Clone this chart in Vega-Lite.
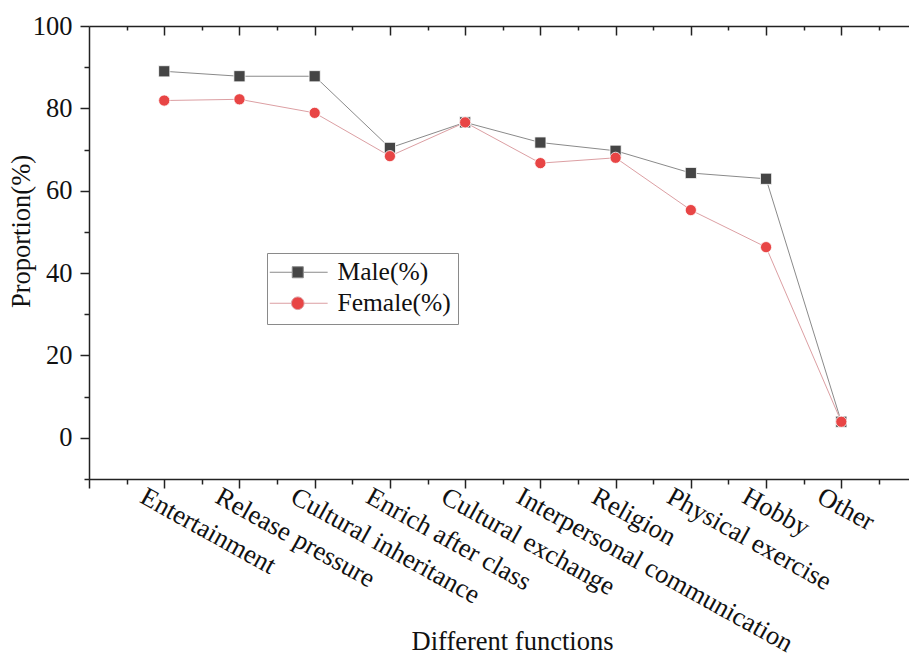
{
  "$schema": "https://vega.github.io/schema/vega-lite/v6.json",
  "width": 820,
  "height": 453,
  "autosize": {"type": "none"},
  "padding": {"left": 89, "top": 26, "right": 0, "bottom": 176},
  "background": "white",
  "config": {"view": {"stroke": null}, "font": "Liberation Serif"},
  "data": {
    "values": [
      {"function": "Entertainment", "idx": 1, "gender": "Male(%)", "value": 89.0},
      {"function": "Release pressure", "idx": 2, "gender": "Male(%)", "value": 87.8},
      {"function": "Cultural inheritance", "idx": 3, "gender": "Male(%)", "value": 87.8},
      {"function": "Enrich after class", "idx": 4, "gender": "Male(%)", "value": 70.4},
      {"function": "Cultural exchange", "idx": 5, "gender": "Male(%)", "value": 76.6},
      {"function": "Interpersonal communication", "idx": 6, "gender": "Male(%)", "value": 71.7},
      {"function": "Religion", "idx": 7, "gender": "Male(%)", "value": 69.7},
      {"function": "Physical exercise", "idx": 8, "gender": "Male(%)", "value": 64.3},
      {"function": "Hobby", "idx": 9, "gender": "Male(%)", "value": 62.9},
      {"function": "Other", "idx": 10, "gender": "Male(%)", "value": 3.9},
      {"function": "Entertainment", "idx": 1, "gender": "Female(%)", "value": 81.9},
      {"function": "Release pressure", "idx": 2, "gender": "Female(%)", "value": 82.2},
      {"function": "Cultural inheritance", "idx": 3, "gender": "Female(%)", "value": 78.9},
      {"function": "Enrich after class", "idx": 4, "gender": "Female(%)", "value": 68.4},
      {"function": "Cultural exchange", "idx": 5, "gender": "Female(%)", "value": 76.6},
      {"function": "Interpersonal communication", "idx": 6, "gender": "Female(%)", "value": 66.7},
      {"function": "Religion", "idx": 7, "gender": "Female(%)", "value": 68.0},
      {"function": "Physical exercise", "idx": 8, "gender": "Female(%)", "value": 55.3},
      {"function": "Hobby", "idx": 9, "gender": "Female(%)", "value": 46.3},
      {"function": "Other", "idx": 10, "gender": "Female(%)", "value": 3.9}
    ]
  },
  "layer": [
    {
      "mark": {"type": "line", "strokeWidth": 1},
      "encoding": {
        "x": {
          "field": "idx", "type": "quantitative",
          "scale": {"domain": [0, 10.9], "nice": false, "zero": false},
          "axis": {
            "orient": "bottom",
            "values": [0, 0.5, 1, 1.5, 2, 2.5, 3, 3.5, 4, 4.5, 5, 5.5, 6, 6.5, 7, 7.5, 8, 8.5, 9, 9.5, 10, 10.5],
            "labelExpr": "datum.value % 1 === 0 && datum.value >= 1 ? ['', 'Entertainment', 'Release pressure', 'Cultural inheritance', 'Enrich after class', 'Cultural exchange', 'Interpersonal communication', 'Religion', 'Physical exercise', 'Hobby', 'Other'][datum.value] : ''",
            "labelAngle": 29, "labelAlign": "left", "labelBaseline": "top",
            "labelOffset": -16, "labelPadding": -5, "labelFontSize": 26.5, "labelLimit": 600,
            "labelFont": "Liberation Serif", "labelColor": "#111",
            "labelOverlap": false, "labelFlush": false,
            "tickSize": {"condition": {"test": "datum.value % 1 === 0", "value": 9}, "value": 5},
            "tickColor": "#222", "tickWidth": 1.5, "domainColor": "#222", "domainWidth": 1.5,
            "grid": false,
            "title": "Different functions", "titleFontSize": 26.5, "titleFontWeight": "normal",
            "titleFont": "Liberation Serif", "titleColor": "#111",
            "titleX": 423, "titleY": 170, "titleBaseline": "alphabetic", "titleAlign": "center"
          }
        },
        "y": {
          "field": "value", "type": "quantitative",
          "scale": {"domain": [-10, 100], "nice": false, "zero": false},
          "axis": {
            "orient": "left",
            "values": [-10, 0, 10, 20, 30, 40, 50, 60, 70, 80, 90, 100],
            "labelExpr": "datum.value >= 0 && datum.value % 20 === 0 ? datum.label : ''",
            "tickSize": {"condition": {"test": "datum.value % 20 === 0", "value": 9}, "value": 5},
            "labelFontSize": 26.5, "labelFont": "Liberation Serif", "labelColor": "#111",
            "labelPadding": 8, "labelOverlap": false, "labelFlush": false,
            "tickColor": "#222", "tickWidth": 1.5, "domainColor": "#222", "domainWidth": 1.5,
            "grid": false,
            "title": "Proportion(%)", "titleFontSize": 26.5, "titleFontWeight": "normal",
            "titleFont": "Liberation Serif", "titleColor": "#111",
            "titleX": -68, "titleY": 205, "titleAngle": -90, "titleBaseline": "middle", "titleAlign": "center"
          }
        },
        "stroke": {
          "field": "gender", "type": "nominal",
          "scale": {"domain": ["Male(%)", "Female(%)"], "range": ["#8a8a8a", "#dc9fa3"]},
          "legend": null
        }
      }
    },
    {
      "mark": {"type": "point", "filled": true, "size": 125, "opacity": 1, "stroke": "white", "strokeWidth": 0.8},
      "encoding": {
        "x": {
          "field": "idx", "type": "quantitative",
          "scale": {"domain": [0, 10.9], "nice": false, "zero": false},
          "axis": {
            "orient": "top",
            "values": [0.5, 1, 1.5, 2, 2.5, 3, 3.5, 4, 4.5, 5, 5.5, 6, 6.5, 7, 7.5, 8, 8.5, 9, 9.5, 10, 10.5],
            "labels": false, "title": null, "grid": false,
            "tickSize": {"condition": {"test": "datum.value % 1 === 0", "value": -9}, "value": -4},
            "tickColor": "#222", "tickWidth": 1.5, "domainColor": "#222", "domainWidth": 1.5
          }
        },
        "y": {
          "field": "value", "type": "quantitative",
          "scale": {"domain": [-10, 100], "nice": false, "zero": false},
          "axis": null
        },
        "fill": {
          "field": "gender", "type": "nominal",
          "scale": {"domain": ["Male(%)", "Female(%)"], "range": ["#454545", "#e84545"]},
          "legend": null
        },
        "shape": {
          "field": "gender", "type": "nominal",
          "scale": {"domain": ["Male(%)", "Female(%)"], "range": ["square", "circle"]},
          "legend": null
        }
      }
    },
    {
      "transform": [{"filter": "false"}],
      "mark": {"type": "point", "filled": true, "size": 144, "opacity": 1, "strokeWidth": 1},
      "encoding": {
        "fill": {
          "field": "gender", "type": "nominal",
          "scale": {"domain": ["Male(%)", "Female(%)"], "range": ["#454545", "#e84545"]},
          "legend": {"orient": "none", "legendX": 178, "legendY": 227, "title": null, "strokeColor": "#8a8a8a", "padding": 6.5, "labelFontSize": 25.5, "labelFont": "Liberation Serif", "labelColor": "#111", "labelOffset": 38.5, "rowPadding": 4, "symbolStrokeWidth": 1, "symbolSize": 144, "fillColor": "white"}
        },
        "stroke": {
          "field": "gender", "type": "nominal",
          "scale": {"domain": ["Male(%)", "Female(%)"], "range": ["#8a8a8a", "#dc9fa3"]},
          "legend": {"orient": "none", "legendX": 178, "legendY": 227, "title": null, "strokeColor": "#8a8a8a", "padding": 6.5, "labelFontSize": 25.5, "labelFont": "Liberation Serif", "labelColor": "#111", "labelOffset": 38.5, "rowPadding": 4, "symbolStrokeWidth": 1, "symbolSize": 144, "fillColor": "white"}
        },
        "shape": {
          "field": "gender", "type": "nominal",
          "scale": {
            "domain": ["Male(%)", "Female(%)"],
            "range": [
              "M-2.75,0H1M2.84,0H6.9M1,-0.92H2.84V0.92H1Z",
              "M-2.75,0H0.87M2.97,0H6.9M2.97,0A1.05,1.05 0 1,1 0.87,0A1.05,1.05 0 1,1 2.97,0Z"
            ]
          },
          "legend": {"orient": "none", "legendX": 178, "legendY": 227, "title": null, "strokeColor": "#8a8a8a", "padding": 6.5, "labelFontSize": 25.5, "labelFont": "Liberation Serif", "labelColor": "#111", "labelOffset": 38.5, "rowPadding": 4, "symbolStrokeWidth": 1, "symbolSize": 144, "fillColor": "white"}
        }
      }
    }
  ],
  "resolve": {
    "scale": {"shape": "independent", "fill": "independent", "stroke": "independent"},
    "axis": {"x": "independent", "y": "independent"}
  }
}
